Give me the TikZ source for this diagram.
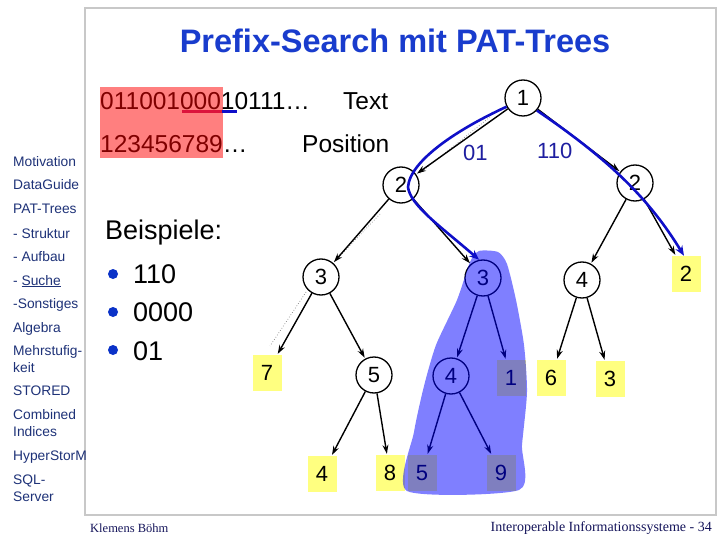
\documentclass[tikz,border=0pt]{standalone}
\usepackage{fontspec}
\setmainfont{Liberation Sans}
\newfontfamily\footserif{Liberation Serif}
\usetikzlibrary{arrows.meta}
\definecolor{titleblue}{RGB}{25,60,205}
\definecolor{sidenavy}{RGB}{30,50,120}
\definecolor{pathblue}{RGB}{15,15,200}
\definecolor{labelblue}{RGB}{30,30,160}
\definecolor{leafyellow}{RGB}{255,255,128}
\definecolor{bulletblue}{RGB}{10,50,200}
\definecolor{footnavy}{RGB}{20,20,90}
\definecolor{framegray}{RGB}{200,200,200}
\definecolor{ulred}{RGB}{220,20,60}
\tikzset{
  inner/.style={circle, draw, line width=1.3pt, minimum size=36pt, inner sep=0pt, font=\fontsize{22}{26}\selectfont},
  leaf/.style={rectangle, fill=leafyellow, minimum width=29pt, minimum height=36pt, inner sep=0pt, font=\fontsize{22}{26}\selectfont},
  arr/.style={line width=1.4pt, -{Stealth[length=9pt,width=6pt]}, shorten >=1pt},
  bluearr/.style={line width=2.6pt, pathblue, -{Stealth[length=10pt,width=8pt]}},
  side/.style={anchor=base west, inner sep=0pt, text=sidenavy, font=\fontsize{13.8}{16}\selectfont},
  big/.style={anchor=base west, inner sep=0pt, font=\fontsize{24.5}{28}\selectfont},
  ex/.style={anchor=base west, inner sep=0pt, font=\fontsize{27}{31}\selectfont},
  bul/.style={circle, fill=bulletblue, minimum size=10pt, inner sep=0pt},
  dotline/.style={gray, dotted, line width=0.7pt}
}
\begin{document}
\begin{tikzpicture}[x=1pt,y=-1pt]
\useasboundingbox (0,0) rectangle (720,540);
\fill[white] (0,0) rectangle (720,540);
% frame
\draw[framegray, line width=2pt] (85,8) rectangle (716,515);
% title
\node[anchor=base, inner sep=0pt, text=titleblue, font=\fontsize{32.5}{37}\selectfont\bfseries] (title) at (395,53) {Prefix-Search mit PAT-Trees};
% sidebar
\node[side] (s1) at (13,167) {Motivation};
\node[side] (s2) at (13,190) {DataGuide};
\node[side] (s3) at (13,214) {PAT-Trees};
\node[side] (s4) at (13,238) {- Struktur};
\node[side] (s5) at (13,261) {- Aufbau};
\node[side] (s6) at (13,285) {- \underline{Suche}};
\node[side] (s7) at (13,308) {-Sonstiges};
\node[side] (s8) at (13,332) {Algebra};
\node[side] (s9a) at (13,355) {Mehrstufig-};
\node[side] (s9b) at (13,372) {keit};
\node[side] (s10) at (13,395) {STORED};
\node[side] (s11a) at (13,419) {Combined};
\node[side] (s11b) at (13,436) {Indices};
\node[side] (s12) at (13,460) {HyperStorM};
\node[side] (s13a) at (13,484) {SQL-};
\node[side] (s13b) at (13,501) {Server};
% footer
\node[anchor=base west, inner sep=0pt, text=footnavy, font=\footserif\fontsize{12.5}{14}\selectfont] (f1) at (90,532) {Klemens Böhm};
\node[anchor=base east, inner sep=0pt, text=footnavy, font=\footserif\fontsize{14}{16}\selectfont] (f2) at (712,531) {Interoperable Informationssysteme - 34};
% bit string
\node[big] (bits) at (100,110) {01100100010111…};
\node[big] (pos) at (100,153) {123456789…};
\node[big] (txt) at (343,110) {Text};
\node[big] (posl) at (302,153) {Position};
\fill[red, opacity=0.5] (100,87) rectangle (223,158);
\draw[ulred, line width=3pt] (182,112) -- (222,112);
\draw[pathblue, line width=3pt] (222,112) -- (237,112);
% examples
\node[ex] (bsp) at (105,240) {Beispiele:};
\node[bul] (b1) at (113,274) {};
\node[bul] (b2) at (113,312) {};
\node[bul] (b3) at (113,350) {};
\node[ex] (e1) at (133,283) {110};
\node[ex] (e2) at (133,321) {0000};
\node[ex] (e3) at (133,360) {01};
% tree nodes
\node[inner] (n1) at (523,98) {1};
\node[inner] (n2l) at (401,185) {2};
\node[inner] (n2r) at (635,183) {2};
\node[inner] (n3l) at (321,277) {3};
\node[inner] (n3m) at (483,278) {3};
\node[inner] (n4r) at (582,280) {4};
\node[inner] (n5) at (374,375) {5};
\node[inner] (n4m) at (451,376) {4};
\node[leaf] (l2r) at (686,274) {2};
\node[leaf] (l7) at (267,373) {7};
\node[leaf] (l1) at (511,378) {1};
\node[leaf] (l6) at (551,378) {6};
\node[leaf] (l3) at (610,379) {3};
\node[leaf] (l4) at (322,474) {4};
\node[leaf] (l8) at (390,473) {8};
\node[leaf] (l5) at (422,473) {5};
\node[leaf] (l9) at (501,473) {9};
% dotted traces
\coordinate (d1a) at (490,117);
\coordinate (d1b) at (420,173);
\coordinate (d2a) at (380,214);
\coordinate (d2b) at (339,257);
\coordinate (d3a) at (306,292);
\coordinate (d3b) at (270,346);
\draw[dotline] (d1a) -- (d1b);
\draw[dotline] (d2a) -- (d2b);
\draw[dotline] (d3a) -- (d3b);
% edges
\draw[arr] (n1) -- (n2l);
\draw[arr] (n1) -- (n2r);
\draw[arr] (n2l) -- (n3l);
\draw[arr] (n2l) -- (n3m);
\draw[arr] (n2r) -- (n4r);
\draw[arr] (n2r) -- (l2r);
\draw[arr] (n3l) -- (l7);
\draw[arr] (n3l) -- (n5);
\draw[arr] (n3m) -- (n4m);
\draw[arr] (n3m) -- (l1);
\draw[arr] (n4r) -- (l6);
\draw[arr] (n4r) -- (l3);
\draw[arr] (n5) -- (l4);
\draw[arr] (n5) -- (l8);
\draw[arr] (n4m) -- (l5);
\draw[arr] (n4m) -- (l9);
% edge labels
\node[anchor=base west, inner sep=0pt, text=labelblue, font=\fontsize{22}{26}\selectfont] (lab01) at (463,161) {01};
\node[anchor=base west, inner sep=0pt, text=labelblue, font=\fontsize{22}{26}\selectfont] (lab110) at (537,159) {110};
% highlighted subtree
\fill[blue, opacity=0.5] plot[smooth cycle, tension=0.4] coordinates {
  (479,251) (498,252) (507,264) (516,300) (524,345) (527,392) (522,445) (519,490)
  (407,491) (414,432) (424,386) (436,345) (457,300) (470,262)};
% search paths
\coordinate (bpmid) at (408,187);
\draw[bluearr] (n1.208) .. controls (460,128) and (410,160) .. (bpmid)
   .. controls (410,205) and (440,226) .. (n3m.102);
\draw[bluearr] (n1.318) .. controls (610,160) and (650,200) .. ([xshift=-2pt]l2r.north);
\end{tikzpicture}
\end{document}
